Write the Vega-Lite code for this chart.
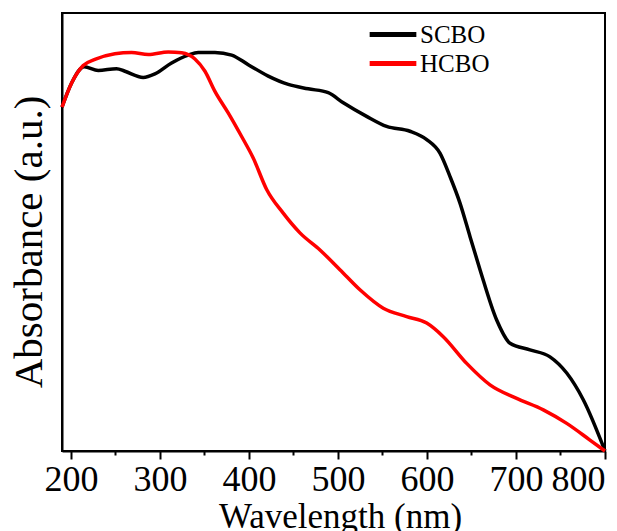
{
  "$schema": "https://vega.github.io/schema/vega-lite/v6.json",
  "width": 543,
  "height": 438,
  "autosize": {"type": "none"},
  "padding": {"left": 62, "top": 13, "right": 12, "bottom": 80},
  "background": "white",
  "config": {"view": {"stroke": "black", "strokeWidth": 2}, "font": "Liberation Serif"},
  "data": {
    "values": [
      {"wl": 190, "abs": 78.5, "sample": "SCBO"},
      {"wl": 200.8, "abs": 84.0, "sample": "SCBO"},
      {"wl": 214.9, "abs": 87.7, "sample": "SCBO"},
      {"wl": 230.7, "abs": 86.9, "sample": "SCBO"},
      {"wl": 251.3, "abs": 87.3, "sample": "SCBO"},
      {"wl": 260.7, "abs": 86.7, "sample": "SCBO"},
      {"wl": 281.2, "abs": 85.3, "sample": "SCBO"},
      {"wl": 294.4, "abs": 86.1, "sample": "SCBO"},
      {"wl": 313.1, "abs": 88.6, "sample": "SCBO"},
      {"wl": 331.8, "abs": 90.4, "sample": "SCBO"},
      {"wl": 343.0, "abs": 91.0, "sample": "SCBO"},
      {"wl": 361.8, "abs": 91.0, "sample": "SCBO"},
      {"wl": 380.6, "abs": 90.4, "sample": "SCBO"},
      {"wl": 399.2, "abs": 88.2, "sample": "SCBO"},
      {"wl": 421.7, "abs": 85.6, "sample": "SCBO"},
      {"wl": 444.2, "abs": 83.7, "sample": "SCBO"},
      {"wl": 466.6, "abs": 82.7, "sample": "SCBO"},
      {"wl": 489.1, "abs": 81.8, "sample": "SCBO"},
      {"wl": 506.0, "abs": 79.5, "sample": "SCBO"},
      {"wl": 532.2, "abs": 76.4, "sample": "SCBO"},
      {"wl": 554.7, "abs": 74.1, "sample": "SCBO"},
      {"wl": 580.9, "abs": 73.0, "sample": "SCBO"},
      {"wl": 599.7, "abs": 71.1, "sample": "SCBO"},
      {"wl": 614.6, "abs": 68.0, "sample": "SCBO"},
      {"wl": 625.8, "abs": 62.7, "sample": "SCBO"},
      {"wl": 637.1, "abs": 56.6, "sample": "SCBO"},
      {"wl": 648.3, "abs": 49.0, "sample": "SCBO"},
      {"wl": 659.6, "abs": 41.4, "sample": "SCBO"},
      {"wl": 678.3, "abs": 29.9, "sample": "SCBO"},
      {"wl": 693.3, "abs": 24.6, "sample": "SCBO"},
      {"wl": 715.7, "abs": 23.1, "sample": "SCBO"},
      {"wl": 738.2, "abs": 21.5, "sample": "SCBO"},
      {"wl": 757.0, "abs": 17.8, "sample": "SCBO"},
      {"wl": 775.6, "abs": 11.7, "sample": "SCBO"},
      {"wl": 800, "abs": 0, "sample": "SCBO"},
      {"wl": 190, "abs": 78.5, "sample": "HCBO"},
      {"wl": 200.8, "abs": 84.0, "sample": "HCBO"},
      {"wl": 213.8, "abs": 88.0, "sample": "HCBO"},
      {"wl": 227.0, "abs": 89.4, "sample": "HCBO"},
      {"wl": 249.4, "abs": 90.7, "sample": "HCBO"},
      {"wl": 268.2, "abs": 91.0, "sample": "HCBO"},
      {"wl": 286.9, "abs": 90.5, "sample": "HCBO"},
      {"wl": 309.3, "abs": 91.1, "sample": "HCBO"},
      {"wl": 324.4, "abs": 90.9, "sample": "HCBO"},
      {"wl": 339.3, "abs": 89.5, "sample": "HCBO"},
      {"wl": 350.6, "abs": 86.7, "sample": "HCBO"},
      {"wl": 361.8, "abs": 82.1, "sample": "HCBO"},
      {"wl": 376.7, "abs": 77.2, "sample": "HCBO"},
      {"wl": 391.8, "abs": 71.8, "sample": "HCBO"},
      {"wl": 404.8, "abs": 66.9, "sample": "HCBO"},
      {"wl": 419.9, "abs": 59.7, "sample": "HCBO"},
      {"wl": 438.5, "abs": 54.3, "sample": "HCBO"},
      {"wl": 457.3, "abs": 49.8, "sample": "HCBO"},
      {"wl": 479.8, "abs": 45.9, "sample": "HCBO"},
      {"wl": 502.2, "abs": 41.4, "sample": "HCBO"},
      {"wl": 524.7, "abs": 36.8, "sample": "HCBO"},
      {"wl": 550.9, "abs": 32.6, "sample": "HCBO"},
      {"wl": 577.2, "abs": 30.7, "sample": "HCBO"},
      {"wl": 599.7, "abs": 29.2, "sample": "HCBO"},
      {"wl": 618.3, "abs": 26.1, "sample": "HCBO"},
      {"wl": 644.6, "abs": 20.0, "sample": "HCBO"},
      {"wl": 670.8, "abs": 15.1, "sample": "HCBO"},
      {"wl": 700.8, "abs": 12.0, "sample": "HCBO"},
      {"wl": 730.7, "abs": 9.4, "sample": "HCBO"},
      {"wl": 757.0, "abs": 6.3, "sample": "HCBO"},
      {"wl": 783.1, "abs": 2.5, "sample": "HCBO"},
      {"wl": 800, "abs": 0, "sample": "HCBO"}
    ]
  },
  "mark": {"type": "line", "interpolate": "monotone", "strokeWidth": 3.5},
  "encoding": {
    "x": {
      "field": "wl",
      "type": "quantitative",
      "scale": {"domain": [190, 800], "nice": false, "zero": false},
      "axis": {
        "values": [200, 250, 300, 350, 400, 450, 500, 550, 600, 650, 700, 750, 800],
        "labelExpr": "datum.value % 100 === 0 ? datum.label : ''",
        "tickSize": {"condition": {"test": "datum.value % 100 === 0", "value": 8}, "value": 4},
        "tickColor": "black",
        "tickWidth": 2,
        "domainColor": "black",
        "domainWidth": 2,
        "grid": false,
        "labelFont": "Liberation Serif",
        "labelFontSize": 36,
        "labelColor": "black",
        "labelPadding": 3,
        "labelFlush": 1,
        "labelOverlap": false,
        "title": "Wavelength (nm)",
        "titleFont": "Liberation Serif",
        "titleFontSize": 35,
        "titleFontWeight": "normal",
        "titleColor": "black",
        "titleBaseline": "alphabetic",
        "titleY": 76,
        "titleX": 278
      }
    },
    "y": {
      "field": "abs",
      "type": "quantitative",
      "scale": {"domain": [0, 100], "nice": false},
      "axis": {
        "ticks": false,
        "labels": false,
        "grid": false,
        "domainColor": "black",
        "domainWidth": 2,
        "title": "Absorbance (a.u.)",
        "titleFont": "Liberation Serif",
        "titleFontSize": 41,
        "titleFontWeight": "normal",
        "titleColor": "black",
        "titleY": 228.5,
        "titlePadding": 12
      }
    },
    "color": {
      "field": "sample",
      "type": "nominal",
      "scale": {"domain": ["SCBO", "HCBO"], "range": ["#000000", "#ff0000"]},
      "legend": {
        "title": null,
        "orient": "none",
        "legendX": 305,
        "legendY": 7,
        "symbolType": "stroke",
        "symbolSize": 2180,
        "symbolStrokeWidth": 5,
        "clipHeight": 29,
        "rowPadding": 0,
        "padding": 0,
        "labelFont": "Liberation Serif",
        "labelFontSize": 25,
        "labelColor": "black",
        "labelOffset": 1
      }
    }
  }
}
